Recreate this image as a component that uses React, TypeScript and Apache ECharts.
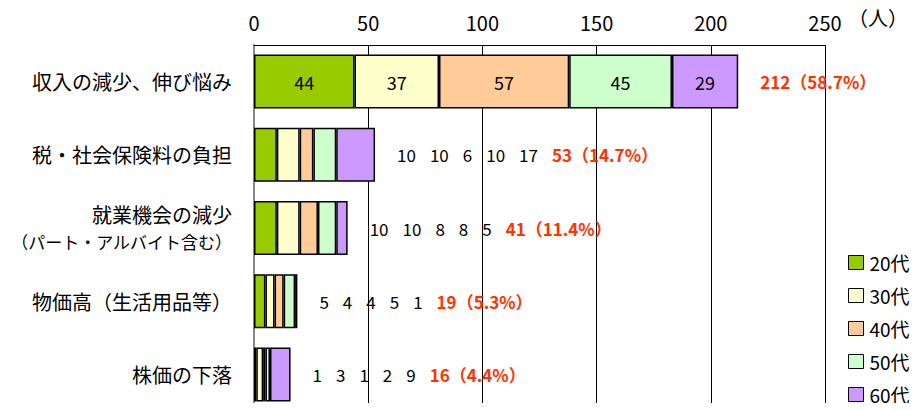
import React, { useEffect, useRef } from "react";
import * as echarts from "echarts";

const categories = [
  "収入の減少、伸び悩み",
  "税・社会保険料の負担",
  "就業機会の減少\n（パート・アルバイト含む）",
  "物価高（生活用品等）",
  "株価の下落",
];
const seriesNames = ["20代", "30代", "40代", "50代", "60代"];
const v20 = [44, 10, 10, 5, 1];
const v30 = [37, 10, 10, 4, 3];
const v40 = [57, 6, 8, 4, 1];
const v50 = [45, 10, 8, 5, 2];
const v60 = [29, 17, 5, 1, 9];
const totals = [212, 53, 41, 19, 16];
const percents = ["58.7%", "14.7%", "11.4%", "5.3%", "4.4%"];
const xTicks = [0, 50, 100, 150, 200, 250];
const colors = ["#99CC00", "#FFFFCC", "#FFCC99", "#CCFFCC", "#CC99FF"];

const FONT = "'Noto Sans CJK JP', sans-serif";

export default function App() {
  const ref = useRef<HTMLDivElement>(null);
  useEffect(() => {
    if (!ref.current) return;
    const chart = echarts.init(ref.current, null, { renderer: "svg" });
    const values = [v20, v30, v40, v50, v60];
    const stacked = values.map((arr, si) => ({
      name: seriesNames[si],
      type: "bar",
      stack: "total",
      barWidth: 54,
      itemStyle: { color: colors[si], borderColor: "#000", borderWidth: 1.5 },
      data: arr.map((v, i) =>
        i === 0
          ? {
              value: v,
              label: {
                show: true,
                position: "inside",
                color: "#000",
                fontSize: 18,
                fontFamily: FONT,
              },
            }
          : v
      ),
    }));
    const totalSeries = {
      name: "合計",
      type: "bar",
      barWidth: 54,
      barGap: "-100%",
      silent: true,
      z: 1,
      itemStyle: { color: "rgba(0,0,0,0)", borderWidth: 0 },
      label: {
        show: true,
        position: "right",
        distance: 22,
        fontFamily: FONT,
        formatter: (p: any) => {
          const i = p.dataIndex;
          const red = `{r|${totals[i]}（${percents[i]}）}`;
          if (i === 0) return red;
          return values.map((arr) => `{v|${arr[i]}}`).join("") + red;
        },
        rich: {
          v: {
            color: "#000",
            fontSize: 17,
            fontFamily: FONT,
            padding: [0, 14, 0, 0],
          },
          r: {
            color: "#FF3300",
            fontSize: 17,
            fontWeight: "bold",
            fontFamily: FONT,
          },
        },
      },
      data: totals,
    };
    chart.setOption({
      animation: false,
      grid: { left: 254, right: 94, top: 45, bottom: 0, containLabel: false },
      legend: {
        data: seriesNames,
        orient: "vertical",
        left: 848,
        top: 252,
        height: 300,
        padding: 0,
        itemWidth: 15,
        itemHeight: 14,
        itemGap: 12,
        icon: "rect",
        itemStyle: { borderColor: "#000", borderWidth: 1 },
        textStyle: { fontSize: 19, color: "#000", fontFamily: FONT, lineHeight: 21, padding: [0, 0, 0, 1] },
      },
      xAxis: {
        type: "value",
        position: "top",
        min: 0,
        max: 250,
        interval: 50,
        axisLine: { show: true, lineStyle: { color: "#000", width: 1 } },
        axisTick: { show: false },
        axisLabel: {
          fontSize: 20,
          color: "#000",
          fontFamily: FONT,
          margin: 13,
          formatter: (v: number) => (xTicks.includes(v) ? String(v) : ""),
        },
        splitLine: { show: true, lineStyle: { color: "#000", width: 1 } },
      },
      yAxis: {
        type: "category",
        data: categories,
        inverse: true,
        axisLine: { show: true, lineStyle: { color: "#888", width: 2 } },
        axisTick: { show: false },
        axisLabel: {
          color: "#000",
          fontFamily: FONT,
          margin: 22,
          formatter: (v: string) =>
            v
              .split("\n")
              .map((line, k) => (k === 0 ? `{a|${line}}` : `{b|${line}}`))
              .join("\n"),
          rich: {
            a: { fontSize: 20, fontFamily: FONT, color: "#000", lineHeight: 27 },
            b: { fontSize: 17, fontFamily: FONT, color: "#000", lineHeight: 27 },
          },
        },
      },
      graphic: [
        {
          type: "text",
          left: 848,
          top: 7,
          style: { text: "（人）", fontSize: 20, fill: "#000", fontFamily: FONT },
        },
      ],
      series: [...stacked, totalSeries],
    });
    return () => chart.dispose();
  }, []);
  return <div ref={ref} style={{ width: 919, height: 411, margin: -8 }} />;
}
